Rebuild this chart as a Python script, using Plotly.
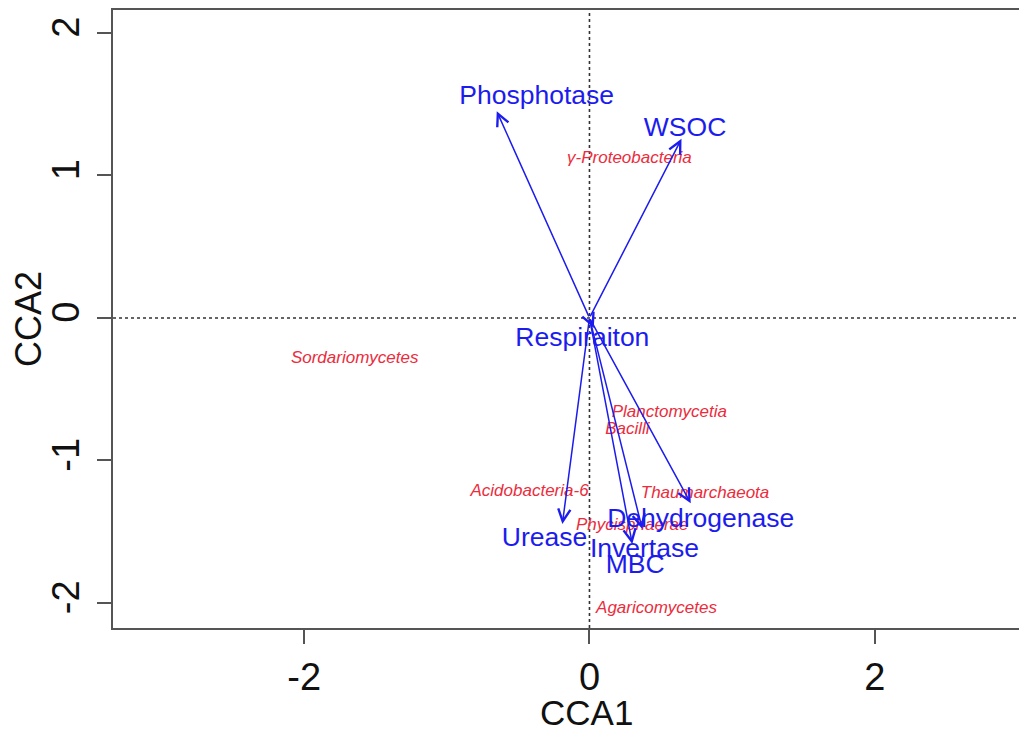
import plotly.graph_objects as go

# Environmental variables (biplot arrows): tip coordinates and label positions
env_names = ["Phosphotase", "WSOC", "Respiraiton", "Urease", "Dehydrogenase", "Invertase", "MBC"]
env_x = [-0.65, 0.645, 0.03, -0.19, 0.71, 0.37, 0.30]
env_y = [1.45, 1.256, -0.07, -1.445, -1.30, -1.48, -1.585]
env_lab_x = [-0.37, 0.67, -0.05, -0.315, 0.78, 0.385, 0.32]
env_lab_y = [1.55, 1.32, -0.15, -1.55, -1.42, -1.63, -1.74]

# Taxa (species scores)
sp_names = ["γ-Proteobacteria", "Sordariomycetes", "Planctomycetia", "Bacilli",
            "Acidobacteria-6", "Thaumarchaeota", "Phycisphaerae", "Agaricomycetes"]
sp_x = [0.28, -1.646, 0.56, 0.266, -0.42, 0.81, 0.30, 0.47]
sp_y = [1.116, -0.288, -0.667, -0.786, -1.22, -1.235, -1.46, -2.04]

x_ticks = [-2, 0, 2]
y_ticks = [-2, -1, 0, 1, 2]

BLUE = "#1c1cee"
RED = "#ec2c3c"
FONT = "Liberation Sans, Arial, sans-serif"

fig = go.Figure()

# dotted reference lines
fig.add_shape(type="line", xref="x", yref="paper", x0=0, x1=0, y0=0, y1=1,
              line=dict(color="#333333", width=1.6, dash="dot"), layer="below")
fig.add_shape(type="line", xref="paper", yref="y", x0=0, x1=1, y0=0, y1=0,
              line=dict(color="#333333", width=1.6, dash="dot"), layer="below")

# arrows
for xe, ye in zip(env_x, env_y):
    fig.add_annotation(x=xe, y=ye, ax=0, ay=0, xref="x", yref="y", axref="x", ayref="y",
                       text="", showarrow=True, arrowhead=5, arrowsize=1.6, arrowwidth=1.5,
                       arrowcolor=BLUE, standoff=0, startstandoff=0)

# taxa labels
fig.add_trace(go.Scatter(x=sp_x, y=sp_y, mode="text", text=sp_names,
                         textfont=dict(family=FONT, size=17, color=RED, style="italic"),
                         textposition="middle center", hoverinfo="skip", showlegend=False))

# env labels
fig.add_trace(go.Scatter(x=env_lab_x, y=env_lab_y, mode="text", text=env_names,
                         textfont=dict(family=FONT, size=26.5, color=BLUE),
                         textposition="middle center", hoverinfo="skip", showlegend=False))

axis_common = dict(showgrid=False, zeroline=False, showline=True,
                   linecolor="#555555", linewidth=2, ticks="outside", ticklen=14,
                   tickwidth=2, tickcolor="#555555", automargin=False,
                   tickfont=dict(family=FONT, size=38, color="#111111"))

# axis titles (the original plot region is centred slightly right of the visible crop)
fig.add_annotation(text="CCA1", xref="paper", yref="paper", x=0.519, y=0,
                   xanchor="center", yanchor="middle", yshift=-84, showarrow=False,
                   font=dict(family=FONT, size=35, color="#111111"))

fig.update_layout(
    width=1019, height=723,
    margin=dict(l=105, r=1, t=2, b=103),
    plot_bgcolor="white", paper_bgcolor="white",
    xaxis=dict(range=[-3.34, 3.06], tickvals=x_ticks, ticktext=[str(v) for v in x_ticks],
               mirror=True, **axis_common),
    yaxis=dict(range=[-2.175, 2.16], tickvals=y_ticks, ticktext=[str(v) for v in y_ticks],
               tickangle=-90, ticklabelstandoff=3, mirror=False,
               title=dict(text="CCA2", font=dict(family=FONT, size=36, color="#111111"), standoff=4),
               **axis_common),
)

fig.write_html("out.html")
